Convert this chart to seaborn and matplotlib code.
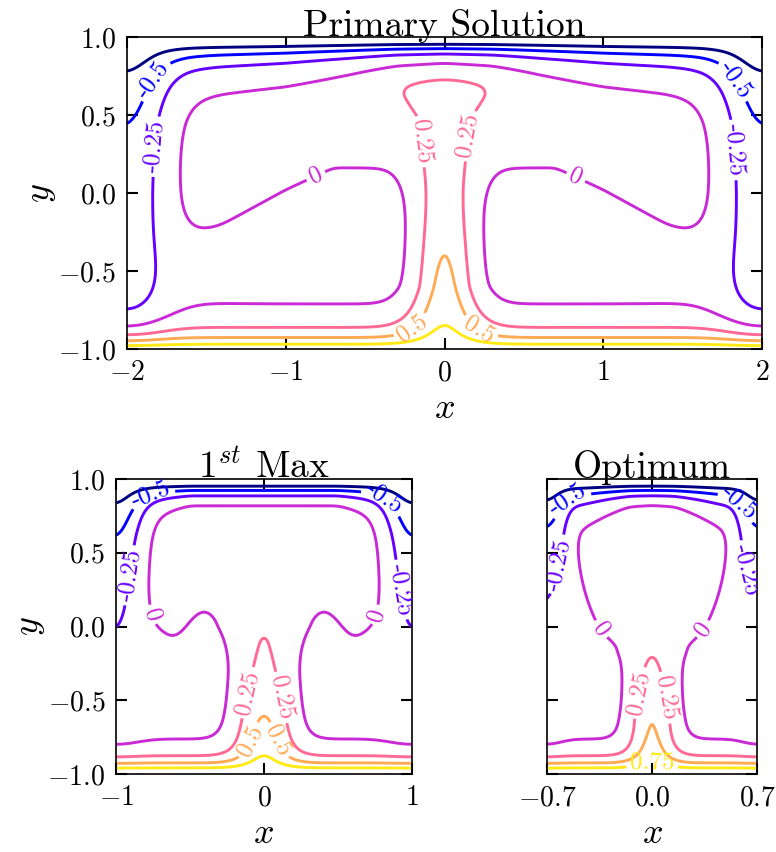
import numpy as np
import matplotlib
matplotlib.use("Agg")
import matplotlib.pyplot as plt
import seaborn as sns

# ---------------------------------------------------------------- values
LEVELS = [-0.75, -0.5, -0.25, 0.0, 0.25, 0.5, 0.75]
Y_TICKS = [-1.0, -0.5, 0.0, 0.5, 1.0]

# Primary solution, x in [-2, 2]
PRIMARY_TITLE = "Primary Solution"
PRIMARY_HALF_WIDTH = 2.0
PRIMARY_X_TICKS = [-2, -1, 0, 1, 2]
PRIMARY_SEP_ABSX = [0.0, 0.7, 1.0, 1.4, 2.0]
PRIMARY_SEP_Y = [0.16, 0.16, 0.02, -0.2, -0.45]
PRIMARY_WALL_Y = [-1.0, -0.85, 0.0, 0.45, 0.8, 1.0]
PRIMARY_WALL_PSI = [-0.42, -0.42, -0.42, -0.44, -0.55, -0.7]
PRIMARY_TOP_ABSX = [0.0, 0.3, 0.6, 1.0, 1.4, 1.7, 2.0]
PRIMARY_TOP_SCALE = [0.10, 0.10, 0.105, 0.12, 0.14, 0.16, 0.16]
PRIMARY_DOME = [0.33, 0.25, 0.10, 0.0, 0.0, 0.0, 0.0]
PRIMARY_PLUME_Y = [-1.0, -0.8, -0.43, 0.0, 0.4, 0.62, 0.68, 0.78, 1.0]
PRIMARY_PLUME_AMP = [0.8, 0.75, 0.62, 0.47, 0.33, 0.27, 0.24, 0.0, 0.0]
PRIMARY_PLUME_WY = [-1.0, -0.6, 0.45, 0.64, 1.0]
PRIMARY_PLUME_W = [0.25, 0.18, 0.18, 0.33, 0.33]
# corner scale, corner width, bottom offset, bottom scale, side width, recirculation
PRIMARY_LAYERS = [0.08, 0.18, 0.0, 0.12, 0.25, 0.10]
PRIMARY_LABELS = {-0.5: [(-1.92, 0.78), (1.92, 0.78)],
                  -0.25: [(-1.86, 0.30), (1.88, 0.28)],
                  0.0: [(-0.82, 0.13), (0.84, 0.13)],
                  0.25: [(-0.18, 0.33), (0.15, 0.37)],
                  0.5: [(-0.25, -0.80), (0.25, -0.82)]}

# First maximum, x in [-1, 1]
FIRST_TITLE = r"1$^{st}$ Max"
FIRST_HALF_WIDTH = 1.0
FIRST_X_TICKS = [-1, 0, 1]
FIRST_SEP_ABSX = [0.0, 0.25, 0.3, 0.35, 0.4, 0.45, 0.5, 0.55, 0.6, 0.65, 0.7, 1.0]
FIRST_SEP_Y = [0.0, 0.0, 0.03, 0.08, 0.11, 0.09, 0.04, -0.03, -0.07, -0.07, -0.05, -0.05]
FIRST_WALL_Y = [-1.0, -0.85, 0.0, 0.61, 1.0]
FIRST_WALL_PSI = [-0.15, -0.15, -0.25, -0.42, -0.6]
FIRST_TOP_ABSX = [0.0, 0.5, 0.75, 1.0]
FIRST_TOP_SCALE = [0.10, 0.10, 0.11, 0.12]
FIRST_DOME = [0.27, 0.27, 0.10, 0.0]
FIRST_PLUME_Y = [-1.0, -0.8, -0.6, -0.3, -0.1, 0.0, 0.1, 1.0]
FIRST_PLUME_AMP = [0.8, 0.72, 0.6, 0.4, 0.3, 0.24, 0.0, 0.0]
FIRST_PLUME_WY = [-1.0, 1.0]
FIRST_PLUME_W = [0.19, 0.19]
FIRST_LAYERS = [0.06, 0.15, 0.02, 0.09, 0.17, 0.10]
FIRST_LABELS = {-0.5: [(-0.75, 0.85), (0.80, 0.85)],
                -0.25: [(-0.93, 0.35), (0.93, 0.25)],
                0.0: [(-0.76, 0.08), (0.76, 0.08)],
                0.25: [(-0.10, -0.45), (0.12, -0.48)],
                0.5: [(-0.15, -0.75), (0.15, -0.75)]}

# Optimum, x in [-0.7, 0.7]
OPT_TITLE = "Optimum"
OPT_HALF_WIDTH = 0.7
OPT_X_TICKS = [-0.7, 0.0, 0.7]
OPT_SEP_ABSX = [0.0, 0.25, 0.3, 0.38, 0.45, 0.51, 0.6, 0.7]
OPT_SEP_Y = [-0.1, -0.1, -0.08, 0.035, 0.22, 0.44, 0.88, 1.5]
OPT_WALL_Y = [-1.0, -0.85, 0.2, 0.67, 1.0]
OPT_WALL_PSI = [-0.15, -0.15, -0.25, -0.41, -0.6]
OPT_TOP_ABSX = [0.0, 0.15, 0.3, 0.45, 0.7]
OPT_TOP_SCALE = [0.10, 0.10, 0.11, 0.125, 0.13]
OPT_DOME = [0.28, 0.24, 0.12, 0.02, 0.0]
OPT_PLUME_Y = [-1.0, -0.8, -0.62, -0.4, -0.18, -0.05, 1.0]
OPT_PLUME_AMP = [0.6, 0.62, 0.6, 0.45, 0.28, 0.0, 0.0]
OPT_PLUME_WY = [-1.0, 1.0]
OPT_PLUME_W = [0.15, 0.15]
OPT_LAYERS = [0.03, 0.12, 0.02, 0.09, 0.11, 0.10]
OPT_LABELS = {-0.5: [(-0.55, 0.85), (0.57, 0.83)],
              -0.25: [(-0.62, 0.42), (0.62, 0.38)],
              0.0: [(-0.33, -0.01), (0.33, -0.01)],
              0.25: [(-0.08, -0.45), (0.10, -0.48)],
              0.75: [(0.0, -0.94)]}


# ---------------------------------------------------------------- field
def soft_plus(z, eps=0.01):
    return eps * np.logaddexp(0.0, z / eps)


def smooth(a, s):
    r = int(3 * s)
    k = np.exp(-0.5 * (np.arange(-r, r + 1) / s) ** 2)
    k /= k.sum()
    p = np.pad(a, r, mode="edge")
    p = np.apply_along_axis(lambda v: np.convolve(v, k, mode="valid"), 0, p)
    p = np.apply_along_axis(lambda v: np.convolve(v, k, mode="valid"), 1, p)
    return p


def stream_function(half_width, sep_absx, sep_y, wall_y, wall_psi,
                    top_absx, top_scale, dome, plume_y, plume_amp,
                    plume_wy, plume_w, layers):
    x = np.linspace(-half_width, half_width, int(200 * half_width) + 1)
    y = np.linspace(-1.0, 1.0, 401)
    X, Y = np.meshgrid(x, y)
    c_scale, c_width, b_off, b_scale, s_width, r_amp = layers
    ax_abs = np.abs(X)
    ds = half_width - ax_abs
    side = np.exp(-(ds / s_width) ** 2)
    corner = np.exp(-(ds / c_width) ** 2)
    t_scale = np.interp(ax_abs, top_absx, top_scale) + c_scale * corner
    top = np.exp(-soft_plus(1 - Y - 0.03) / t_scale)
    bottom = np.exp(-soft_plus(1 + Y - b_off) / b_scale)
    y0 = np.interp(ax_abs, sep_absx, sep_y)
    recirc = r_amp * np.tanh((Y - y0) / 0.25)
    cap = np.interp(ax_abs, top_absx, dome) * np.exp(-((1 - Y) / 0.3) ** 2)
    width = np.interp(Y, plume_wy, plume_w)
    plume = np.interp(Y, plume_y, plume_amp) * np.exp(-(X / width) ** 2)
    wall = np.interp(Y, wall_y, wall_psi)
    core = side * wall + (1 - side) * (recirc + plume + cap)
    psi = -top + bottom + (1 - top) * (1 - bottom) * core
    return X, Y, smooth(psi, 3.0)


# ---------------------------------------------------------------- style
sns.set_theme(style="ticks")
plt.rcParams.update({
    "font.family": "serif",
    "font.serif": ["cmr10"],
    "mathtext.fontset": "cm",
    "axes.formatter.use_mathtext": True,
    "axes.unicode_minus": True,
    "axes.linewidth": 1.2,
    "axes.edgecolor": "black",
    "text.color": "black",
    "axes.labelcolor": "black",
    "axes.titlecolor": "black",
    "xtick.color": "black",
    "ytick.color": "black",
    "contour.negative_linestyle": "solid",
})

cmap = plt.get_cmap("gnuplot2")
norm = plt.Normalize(-1.0, 1.0)
fig = plt.figure(figsize=(7.76, 8.52), dpi=100)
ax_top = fig.add_axes([0.1637, 0.5904, 0.8183, 0.3662])
ax_bl = fig.add_axes([0.1501, 0.0915, 0.3802, 0.3462])
ax_br = fig.add_axes([0.7050, 0.0915, 0.2706, 0.3462])

panels = [
    (ax_top, PRIMARY_TITLE, PRIMARY_HALF_WIDTH, PRIMARY_X_TICKS,
     (PRIMARY_SEP_ABSX, PRIMARY_SEP_Y, PRIMARY_WALL_Y, PRIMARY_WALL_PSI,
      PRIMARY_TOP_ABSX, PRIMARY_TOP_SCALE, PRIMARY_DOME,
      PRIMARY_PLUME_Y, PRIMARY_PLUME_AMP, PRIMARY_PLUME_WY, PRIMARY_PLUME_W,
      PRIMARY_LAYERS), PRIMARY_LABELS, True),
    (ax_bl, FIRST_TITLE, FIRST_HALF_WIDTH, FIRST_X_TICKS,
     (FIRST_SEP_ABSX, FIRST_SEP_Y, FIRST_WALL_Y, FIRST_WALL_PSI,
      FIRST_TOP_ABSX, FIRST_TOP_SCALE, FIRST_DOME,
      FIRST_PLUME_Y, FIRST_PLUME_AMP, FIRST_PLUME_WY, FIRST_PLUME_W,
      FIRST_LAYERS), FIRST_LABELS, True),
    (ax_br, OPT_TITLE, OPT_HALF_WIDTH, OPT_X_TICKS,
     (OPT_SEP_ABSX, OPT_SEP_Y, OPT_WALL_Y, OPT_WALL_PSI,
      OPT_TOP_ABSX, OPT_TOP_SCALE, OPT_DOME,
      OPT_PLUME_Y, OPT_PLUME_AMP, OPT_PLUME_WY, OPT_PLUME_W,
      OPT_LAYERS), OPT_LABELS, False),
]

for ax, title, hw, xticks, params, labels, show_y in panels:
    X, Y, psi = stream_function(hw, *params)
    for lev in LEVELS:
        cs = ax.contour(X, Y, psi, levels=[lev], colors=[cmap(norm(lev))],
                        linewidths=2.1, linestyles="solid")
        if lev in labels:
            ax.clabel(cs, manual=labels[lev], fmt="%g", fontsize=18,
                      inline=True, inline_spacing=4)
    ax.set_xlim(-hw, hw)
    ax.set_ylim(-1.0, 1.0)
    ax.set_xticks(xticks)
    ax.set_yticks(Y_TICKS)
    ax.tick_params(direction="in", top=True, right=True, length=8, width=1.5,
                   labelsize=20, pad=8)
    ax.set_title(title, fontsize=27, pad=1)
    ax.set_xlabel("$x$", fontsize=26, labelpad=5)
    if show_y:
        ax.set_ylabel("$y$", fontsize=26, labelpad=0)
    else:
        ax.tick_params(labelleft=False)
    for sp in ax.spines.values():
        sp.set_color("black")
        sp.set_linewidth(1.2)

fig.savefig("out.png", dpi=100)
